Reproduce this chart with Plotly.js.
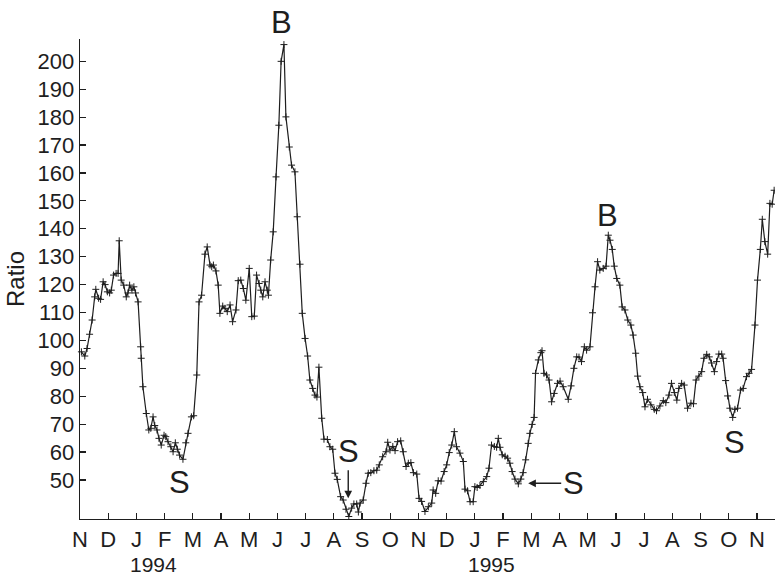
<!DOCTYPE html>
<html>
<head>
<meta charset="utf-8">
<script src="https://cdn.plot.ly/plotly-3.0.1.min.js"></script>
<style>html,body{margin:0;padding:0;background:#fff;}#chart{width:775px;height:578px;}</style>
</head>
<body>
<div id="chart"></div>
<script>
// x: months since 1 Nov 1993 (0 = Nov 1993, 12 = Nov 1994, 24 = Nov 1995)
const monthsX = [
0.05,0.17,0.25,0.34,0.43,0.52,0.56,0.66,0.73,0.82,0.89,0.97,1.05,1.11,1.19,1.28,1.35,1.39,1.46,1.55,
1.64,1.70,1.76,1.84,1.91,1.97,2.06,2.15,2.17,2.23,2.35,2.44,2.51,2.59,2.65,2.73,2.80,2.88,2.98,3.04,
3.12,3.22,3.30,3.38,3.45,3.53,3.65,3.75,3.83,3.95,4.03,4.14,4.22,4.31,4.43,4.51,4.61,4.67,4.73,4.82,
4.90,4.96,5.06,5.14,5.22,5.32,5.41,5.53,5.61,5.70,5.79,5.88,6.00,6.09,6.18,6.26,6.35,6.41,6.48,6.56,
6.64,6.68,6.76,6.85,6.95,7.05,7.13,7.23,7.30,7.42,7.50,7.62,7.70,7.80,7.88,7.98,8.07,8.15,8.25,8.33,
8.40,8.47,8.57,8.65,8.77,8.86,8.96,9.04,9.12,9.24,9.33,9.43,9.53,9.63,9.71,9.81,9.87,9.93,10.04,10.14,
10.22,10.31,10.42,10.52,10.61,10.73,10.85,10.91,10.99,11.09,11.17,11.26,11.37,11.46,11.56,11.64,11.73,11.82,11.94,12.02,
12.11,12.23,12.35,12.47,12.52,12.61,12.70,12.80,12.91,13.00,13.09,13.18,13.27,13.35,13.47,13.59,13.65,13.74,13.83,13.94,
14.00,14.08,14.18,14.30,14.42,14.50,14.59,14.69,14.77,14.83,14.89,14.97,15.07,15.16,15.24,15.32,15.42,15.54,15.63,15.71,
15.80,15.89,15.95,16.03,16.10,16.15,16.25,16.34,16.38,16.45,16.54,16.63,16.72,16.81,16.93,17.02,17.13,17.31,17.41,17.51,
17.61,17.69,17.78,17.88,17.96,18.08,18.17,18.26,18.35,18.43,18.55,18.65,18.73,18.79,18.87,18.94,19.03,19.14,19.22,19.32,
19.42,19.53,19.61,19.70,19.77,19.85,19.95,20.03,20.12,20.24,20.36,20.44,20.56,20.68,20.77,20.88,20.97,21.07,21.16,21.23,
21.33,21.42,21.54,21.66,21.75,21.84,21.94,22.04,22.12,22.22,22.31,22.39,22.49,22.57,22.65,22.75,22.80,22.89,22.96,23.04,
23.14,23.22,23.31,23.42,23.51,23.63,23.72,23.81,23.93,24.02,24.12,24.19,24.28,24.38,24.46,24.54,24.61
];
const ratio = [
95.9,94.4,97.1,102.2,107.3,115.6,118.3,115.1,114.7,121,120,117.4,117,118,123.4,124,124,135.7,121.6,119.8,
115.6,117,119.8,118,119.2,117,113.8,97.7,93.6,83.4,73.8,67.9,68.5,72.6,69.5,67.9,64.9,62.5,66,65.5,
63.7,61.9,60.1,63.3,61,58.9,57.4,63.3,66.7,72.6,73,87.6,113.8,116.2,130.9,133.5,127,126.4,127,124.9,
119.8,109.7,112.3,111.5,110.3,112.7,106.7,110.9,121.4,121.6,118.6,114.4,125.8,108.5,108.7,123.4,120.4,118,115.6,121,
118,116.2,128.8,138.9,158.6,177.1,200,206,180.1,169.3,162.8,160.4,144.3,127.3,109.7,100.7,94.4,85.8,82.8,80.4,
79.7,90.4,72.1,64.6,64.5,61.9,61,52.4,50.2,44,42.8,39.5,36.9,39.9,41.4,41.4,38.5,41.7,42.8,48.8,
52.4,52.6,53.3,53.5,55.4,58.3,60.1,63.5,60.7,62,60.5,63.7,64,60.1,54.8,56,56.2,52.6,52.1,43.4,
42.3,38.7,40.4,41.7,46.4,45.2,49.7,49.6,53,55.4,59.8,62.5,67.3,61.9,59.6,56.6,46.7,46.1,42.2,42.2,
47.6,47.3,48,49.4,51.2,54.2,62.5,62,61.7,64.9,61.7,59,58.5,57.8,56,53,50.3,48.6,50.3,52.6,
57.2,63.1,66.7,69.9,72.4,88.2,93,95.6,96.3,88.2,87.6,85.8,78,81,84.6,85.4,83.4,78.9,83.7,90,
94.1,94,92.4,97.7,96.5,97.7,109.9,119.2,128.2,125.2,125.8,126.6,137.7,135.9,132.6,126.6,122.2,119.8,112,110.9,
107.3,105.5,101.9,95.4,87.2,83.4,81.3,76.2,78.9,76.9,75.3,74.8,76.5,78.4,77.7,80.4,84.6,81.3,78.6,82.8,
84.6,84,75.7,77.5,77.3,85.8,87.2,88.8,93.6,95,94.1,91.9,88.8,92.4,95.1,95.1,93.6,85.6,80.1,75.7,
72.4,75.3,75.7,82.2,82.8,87,88.2,89.6,105.5,121.6,132.6,143.4,135.4,130.9,149.1,148.8,153.8
];
const monthTicks = [0,1,2,3,4,5,6,7,8,9,10,11,12,13,14,15,16,17,18,19,20,21,22,23,24];
const monthLabels = ['N','D','J','F','M','A','M','J','J','A','S','O','N','D','J','F','M','A','M','J','J','A','S','O','N'];
const ratioTicks = [50,60,70,80,90,100,110,120,130,140,150,160,170,180,190,200];
const yearLabels = ['1994','1995'];
const yearPos = [2.59,14.6];
// turning-point labels inside the plot: text, x (months), y (ratio)
const markText = ['S','B','S'];
const markX = [3.545,18.69,23.22];
const markY = [49,144.9,63.4];
// top "B" label above the June 1994 peak (x in months, y as paper fraction)
const topMarkX = 7.16;
const topMarkY = 1.035;
// arrowed S labels: arrow tip positions
const arrowTipX = [9.51,15.89];
const arrowTipY = [43.4,48.8];

const ink = '#1e1e1e';
const fontFam = 'Liberation Sans, Arial, Helvetica, sans-serif';

const annotations = [];
for (let i = 0; i < markText.length; i++) {
  annotations.push({x: markX[i], y: markY[i], xref:'x', yref:'y', text: markText[i], showarrow:false,
    font:{family:fontFam, size:31, color:ink}, xanchor:'center', yanchor:'middle'});
}
annotations.push({x: topMarkX, y: topMarkY, xref:'x', yref:'paper', text:'B', showarrow:false,
  font:{family:fontFam, size:31, color:ink}, xanchor:'center', yanchor:'middle'});
annotations.push({x: arrowTipX[0], y: arrowTipY[0], xref:'x', yref:'y', text:'S', showarrow:true,
  ax:0, ay:-47, arrowhead:2, arrowsize:1.1, arrowwidth:1.4, arrowcolor:ink, standoff:0,
  font:{family:fontFam, size:31, color:ink}});
annotations.push({x: arrowTipX[1], y: arrowTipY[1], xref:'x', yref:'y', text:'S', showarrow:true,
  ax:45, ay:0, arrowhead:2, arrowsize:1.1, arrowwidth:1.4, arrowcolor:ink, standoff:0,
  font:{family:fontFam, size:31, color:ink}});
for (let i = 0; i < yearLabels.length; i++) {
  annotations.push({x: yearPos[i], y: -0.094, xref:'x', yref:'paper', text: yearLabels[i], showarrow:false,
    font:{family:fontFam, size:21, color:ink}, xanchor:'center', yanchor:'middle'});
}

const trace = {
  x: monthsX, y: ratio, type:'scatter', mode:'lines+markers',
  line:{color:ink, width:1.2},
  marker:{symbol:'cross-thin', size:5, color:ink, line:{width:1, color:ink}},
  cliponaxis:false, hoverinfo:'skip'
};

const layout = {
  width:775, height:578,
  margin:{l:80, r:0, t:39, b:59, pad:0},
  paper_bgcolor:'#fff', plot_bgcolor:'#fff',
  showlegend:false,
  font:{family:fontFam, color:ink},
  xaxis:{
    range:[0,24.64], tickmode:'array', tickvals:monthTicks, ticktext:monthLabels,
    ticks:'inside', ticklen:6, tickwidth:1.2, tickcolor:ink,
    showline:true, linecolor:ink, linewidth:1.4, showgrid:false, zeroline:false,
    tickfont:{family:fontFam, size:22, color:ink}
  },
  yaxis:{
    range:[36,208], tickmode:'array', tickvals:ratioTicks,
    ticks:'inside', ticklen:6, tickwidth:1.2, tickcolor:ink,
    showline:true, linecolor:ink, linewidth:1.4, showgrid:false, zeroline:false,
    tickfont:{family:fontFam, size:22, color:ink},
    title:{text:'Ratio', font:{family:fontFam, size:24, color:ink}, standoff:6}
  },
  annotations: annotations
};

Plotly.newPlot('chart', [trace], layout, {displayModeBar:false, staticPlot:true});
</script>
</body>
</html>
